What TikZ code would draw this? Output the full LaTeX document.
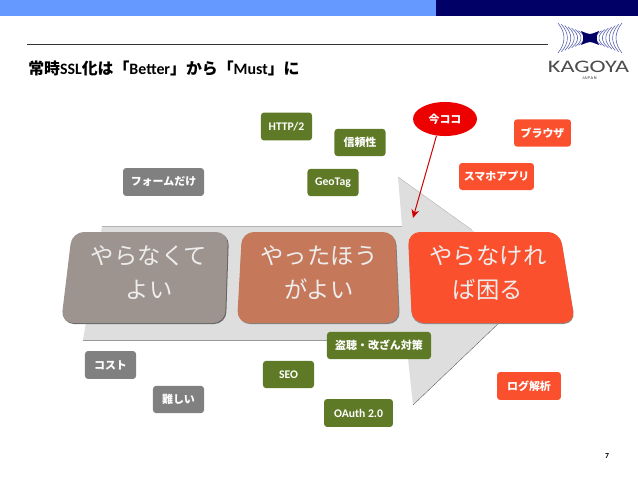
\documentclass[tikz,border=0pt]{standalone}
\usepackage{fontspec}
\setmainfont{Carlito}
\newfontfamily\jpfont{Noto Sans CJK JP}
\usetikzlibrary{arrows.meta,positioning,calc,shapes.geometric}
\definecolor{barBlue}{RGB}{102,153,255}
\definecolor{barNavy}{RGB}{0,0,102}
\definecolor{tagGray}{RGB}{128,128,128}
\definecolor{tagGreen}{RGB}{95,122,38}
\definecolor{tagRed}{RGB}{250,80,45}
\definecolor{stageGray}{RGB}{158,148,143}
\definecolor{stageBrown}{RGB}{198,120,90}
\definecolor{logoBlue}{RGB}{80,90,170}
\tikzset{
  tagbox/.style={rectangle, rounded corners=2.2pt, inner sep=0pt, text=white,
                 font=\jpfont\bfseries\fontsize{7.8}{9}\selectfont},
  latin/.style={font=\bfseries\fontsize{8.3}{9}\selectfont},
  graytag/.style={tagbox, fill=tagGray},
  greentag/.style={tagbox, fill=tagGreen},
  redtag/.style={tagbox, fill=tagRed},
  bigtext/.style={text=white!93!black, align=center, inner sep=0pt,
                  font=\jpfont\fontsize{16.6}{24.2}\selectfont},
  bigbox/.style={rounded corners=8.5pt},
  pointer/.style={-{Stealth[length=6pt,width=5.5pt]}, line width=0.7pt, red!80!black},
}
\begin{document}
\begin{tikzpicture}[x=0.025cm,y=-0.025cm]
  \useasboundingbox (0,0) rectangle (638,479);
  % top band and rule
  \fill[barBlue] (0,0) rectangle (436,16);
  \fill[barNavy] (436,0) rectangle (638,16);
  \draw[black!80, line width=0.5pt] (27,44) -- (548,44);
  \node[anchor=west, inner sep=0pt, font=\jpfont\bfseries\fontsize{11.3}{12}\selectfont] (title) at (28,68)
       {常時{\normalfont\rmfamily\bfseries SSL}化は「{\normalfont\rmfamily\bfseries Better}」から「{\normalfont\rmfamily\bfseries Must}」に};

  % logo
  \foreach \i in {0,...,7}{
    \draw[logoBlue, line width=0.4pt] ({558+\i*3.4},{23+\i*1.3}) .. controls ({566+\i*3.4},{33+\i*0.4}) and ({566+\i*3.4},{43-\i*0.4}) .. ({558+\i*3.4},{53-\i*1.3});
    \draw[logoBlue, line width=0.4pt] ({622-\i*3.4},{23+\i*1.3}) .. controls ({614-\i*3.4},{33+\i*0.4}) and ({614-\i*3.4},{43-\i*0.4}) .. ({622-\i*3.4},{53-\i*1.3});
  }
  \fill[barNavy] (581,31) .. controls (586,33) and (588,34) .. (590,34) .. controls (592,34) and (594,33) .. (599,31)
       .. controls (596,35) and (596,41) .. (599,45) .. controls (594,43) and (592,42) .. (590,42)
       .. controls (588,42) and (586,43) .. (581,45) .. controls (584,41) and (584,35) .. (581,31) -- cycle;
  \node[inner sep=0pt, text=black!70, font=\fontsize{12.5}{13}\selectfont] (kagoya) at (588.5,67) {\scalebox{1.38}[1]{KAGOYA}};
  \node[inner sep=0pt, text=black!65, font=\bfseries\fontsize{3}{4}\selectfont] (japan) at (589.5,78) {J\,A\,P\,A\,N};

  % big arrow
  \fill[black!13] (102,226) -- (402,226) -- (398,177) -- (543,281) -- (413,405) -- (406,340) -- (83,340) -- cycle;
  \draw[black!40, line width=0.5pt] (83,340) -- (406,340);
  \draw[black!60, line width=0.3pt] (413,405) -- (543,281);
  \draw[black!30, line width=0.3pt] (102,226) -- (402,226);
  \draw[black!30, line width=0.3pt] (398,177) -- (472,230);

  % stages
  \fill[bigbox, black!60] (73,233) -- (229,233) -- (226,324) -- (62,324) -- cycle;
  \fill[bigbox, black!50] (242,233) -- (396,233) -- (400,324) -- (238,324) -- cycle;
  \fill[bigbox, black!45] (408,233) -- (560,233) -- (575.5,324) -- (412,324) -- cycle;
  \fill[bigbox, stageGray] (72,232) -- (228,232) -- (225,323) -- (61,323) -- cycle;
  \fill[bigbox, stageBrown] (242,232) -- (395,232) -- (399,323) -- (237,323) -- cycle;
  \fill[bigbox, tagRed] (408,232) -- (560,232) -- (575,323) -- (412,323) -- cycle;
  \node[bigtext] (yoi) at (149,273) {やらなくて\\よい};
  \node[bigtext] (hou) at (319,273) {やったほう\\がよい};
  \node[bigtext] (komaru) at (488,273) {やらなけれ\\ば困る};

  % tags
  \node[graytag, minimum width=57.6pt, minimum height=19.9pt] (form) at (163.5,182) {フォームだけ};
  \node[graytag, minimum width=36.3pt, minimum height=19.9pt] (cost) at (110.5,365) {コスト};
  \node[graytag, minimum width=36.3pt, minimum height=19.4pt] (hard) at (178.5,399.5) {難しい};
  \node[greentag, latin, minimum width=36.3pt, minimum height=19.9pt] (http) at (286.5,126.5) {HTTP/2};
  \node[greentag, minimum width=36.3pt, minimum height=19.4pt] (trust) at (360,142.5) {信頼性};
  \node[greentag, latin, minimum width=36.3pt, minimum height=19.4pt] (geo) at (333,182.5) {GeoTag};
  \node[greentag, minimum width=74pt, minimum height=19.4pt] (tap) at (379,345.5) {盗聴・改ざん対策};
  \node[greentag, latin, minimum width=36.3pt, minimum height=19.4pt] (seo) at (288.5,374.5) {SEO};
  \node[greentag, latin, minimum width=49pt, minimum height=19.9pt] (oauth) at (358.5,413) {OAuth 2.0};
  \node[redtag, minimum width=40.5pt, minimum height=19.4pt] (browser) at (542.5,133) {ブラウザ};
  \node[redtag, minimum width=53.3pt, minimum height=19.2pt] (app) at (496.5,176.5) {スマホアプリ};
  \node[redtag, minimum width=45.5pt, minimum height=19.9pt] (log) at (529,386) {ログ解析};

  % marker
  \node[ellipse, fill=red!93!black, inner sep=0pt, minimum width=45.5pt, minimum height=24.2pt, text=white,
        font=\jpfont\bfseries\fontsize{7.8}{9}\selectfont] (now) at (445,119) {今ココ};
  \coordinate (nowend) at (413,218);
  \draw[pointer] (now.243) -- (nowend);

  \node[inner sep=0pt, font=\bfseries\fontsize{5.5}{6}\selectfont] (pageno) at (607,456) {7};
\end{tikzpicture}
\end{document}
